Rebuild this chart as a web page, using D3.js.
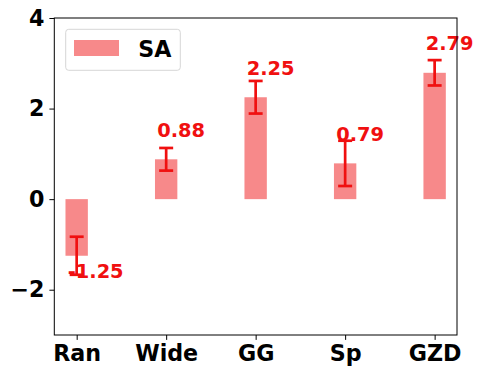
<!DOCTYPE html>
<html>
<head>
<meta charset="utf-8">
<script src="https://cdn.jsdelivr.net/npm/d3@7"></script>
<style>
  body { margin: 0; background: #fff; }
  text { font-family: "DejaVu Sans", sans-serif; font-weight: bold; }
</style>
</head>
<body>
<div class="chart"></div>
<script>
const categories = ["Ran", "Wide", "GG", "Sp", "GZD"]
const values = [-1.25, 0.88, 2.25, 0.79, 2.79]
const errors = [0.42, 0.25, 0.36, 0.5, 0.28]
const yTicks = [-2, 0, 2, 4]
const seriesName = "SA"

const svg = d3.select(".chart").append("svg")
  .attr("width", 487)
  .attr("height", 377)

const margin = {top: 18, right: 30, bottom: 42, left: 54.3}
const width = 487 - margin.left - margin.right
const height = 377 - margin.top - margin.bottom
const g = svg.append("g")
  .attr("transform", `translate(${margin.left}, ${margin.top})`)

const x = d3.scaleLinear()
  .domain([-0.25, 4.25])
  .range([0, width])

const y = d3.scaleLinear()
  .domain([-3, 4])
  .range([height, 0])

const barW = x(0.25) - x(0)
const barColor = "#f7898a"

// bars
g.selectAll("rect.bar")
  .data(values)
  .enter()
  .append("rect")
  .attr("class", "bar")
  .attr("fill", barColor)
  .attr("x", (d, i) => x(i) - barW / 2)
  .attr("width", barW)
  .attr("y", d => y(Math.max(0, d)))
  .attr("height", d => Math.abs(y(d) - y(0)))

// error bars
const eb = g.selectAll("g.err")
  .data(values)
  .enter()
  .append("g")
  .attr("class", "err")
  .attr("stroke", "#f01010")
  .attr("stroke-width", 2.7)

eb.append("line")
  .attr("x1", (d, i) => x(i)).attr("x2", (d, i) => x(i))
  .attr("y1", (d, i) => y(d - errors[i]))
  .attr("y2", (d, i) => y(d + errors[i]))
eb.append("line")
  .attr("x1", (d, i) => x(i) - 7).attr("x2", (d, i) => x(i) + 7)
  .attr("y1", (d, i) => y(d - errors[i])).attr("y2", (d, i) => y(d - errors[i]))
eb.append("line")
  .attr("x1", (d, i) => x(i) - 7).attr("x2", (d, i) => x(i) + 7)
  .attr("y1", (d, i) => y(d + errors[i])).attr("y2", (d, i) => y(d + errors[i]))

// value labels
g.selectAll("text.val")
  .data(values)
  .enter()
  .append("text")
  .attr("class", "val")
  .attr("x", (d, i) => x(i - 0.1))
  .attr("y", d => y(d >= 0 ? d + 0.5 : d - 0.5))
  .attr("fill", "#f01010")
  .attr("font-size", 19.4)
  .text(d => d.toFixed(2))

// axes
const xAxis = g.append("g")
  .attr("transform", `translate(0, ${height})`)
  .call(d3.axisBottom(x).tickValues(d3.range(categories.length)).tickFormat(i => categories[i]).tickSize(4.9).tickPadding(4.9))
xAxis.selectAll("text").attr("font-size", 22.2).attr("fill", "#000").attr("dy", "0.75em")

const yAxis = g.append("g")
  .call(d3.axisLeft(y).tickValues(yTicks).tickFormat(d => d < 0 ? "\u2212" + Math.abs(d) : d).tickSize(4.9).tickPadding(4.9))
yAxis.selectAll("text").attr("font-size", 22.2).attr("fill", "#000")

xAxis.select(".domain").remove()
yAxis.select(".domain").remove()
g.selectAll(".tick line").attr("stroke", "#000").attr("stroke-width", 1)

g.append("rect")
  .attr("x", 0).attr("y", 0)
  .attr("width", width).attr("height", height)
  .attr("fill", "none")
  .attr("stroke", "#000")
  .attr("stroke-width", 1)

// legend
const legend = g.append("g").attr("transform", "translate(11.4, 11.3)")
legend.append("rect")
  .attr("width", 114.6).attr("height", 41)
  .attr("rx", 3).attr("ry", 3)
  .attr("fill", "#fff")
  .attr("stroke", "#d6d6d6")
  .attr("stroke-width", 1)
legend.append("rect")
  .attr("x", 8.3).attr("y", 10.7)
  .attr("width", 45).attr("height", 16)
  .attr("fill", barColor)
legend.append("text")
  .attr("x", 72.6).attr("y", 27.4)
  .attr("font-size", 22.2)
  .attr("fill", "#000")
  .text(seriesName)
</script>
</body>
</html>
